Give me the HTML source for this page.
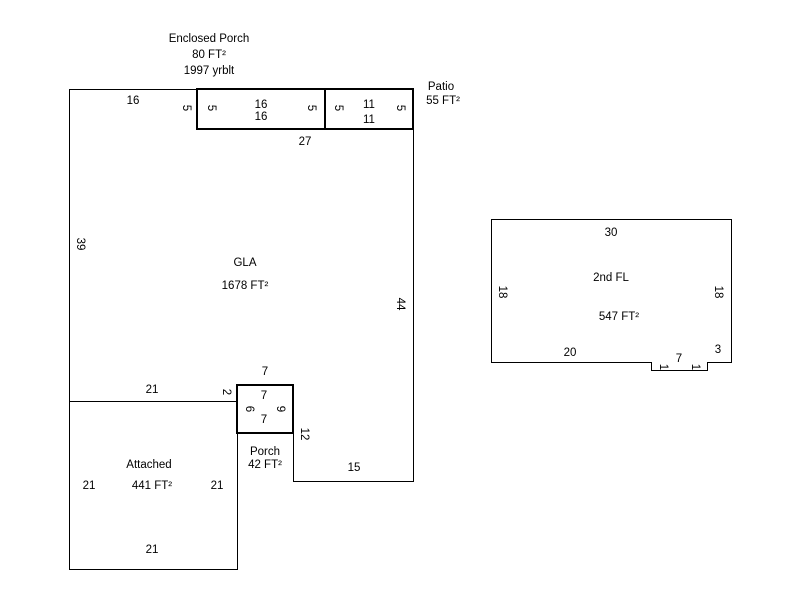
<!DOCTYPE html>
<html><head><style>
html,body{margin:0;padding:0;background:#fff;width:800px;height:600px;overflow:hidden}
text{font-family:"Liberation Sans",Arial,sans-serif;font-size:11.5px;fill:#000}
</style></head><body>
<svg width="800" height="600" xmlns="http://www.w3.org/2000/svg">
<g fill="none" stroke="#000" stroke-width="1">
<path d="M69.5 89.5H197.5V129.5H413.5V481.5H293.5V433.5H237.5V401.5H69.5Z"/>
<path d="M69.5 401.5V569.5H237.5V433.5"/>
<path d="M491.5 219.5H731.5V362.5H707.5V370.5H651.5V362.5H491.5Z"/>
<path d="M325 89.5H413.5V129"/>
</g>
<g fill="none" stroke="#000" stroke-width="2">
<rect x="197" y="89" width="128" height="40"/>
<rect x="325" y="89" width="88" height="40"/>
<rect x="237" y="385" width="56" height="48"/>
</g>
<g text-anchor="middle">
<text x="209" y="42">Enclosed Porch</text>
<text x="209" y="58">80 FT²</text>
<text x="209" y="74">1997 yrblt</text>
<text x="441" y="90">Patio</text>
<text x="443" y="104">55 FT²</text>
<text x="133" y="104">16</text>
<text x="261" y="108">16</text>
<text x="261" y="120">16</text>
<text x="369" y="108">11</text>
<text x="369" y="123">11</text>
<text x="305" y="145">27</text>
<text x="245" y="266">GLA</text>
<text x="245" y="289">1678 FT²</text>
<text x="265" y="375">7</text>
<text x="264" y="399">7</text>
<text x="264" y="423">7</text>
<text x="152" y="393">21</text>
<text x="265" y="455">Porch</text>
<text x="265" y="468">42 FT²</text>
<text x="354" y="471">15</text>
<text x="149" y="468">Attached</text>
<text x="152" y="489">441 FT²</text>
<text x="89" y="489">21</text>
<text x="217" y="489">21</text>
<text x="152" y="553">21</text>
<text x="611" y="236">30</text>
<text x="611" y="281">2nd FL</text>
<text x="619" y="320">547 FT²</text>
<text x="570" y="356">20</text>
<text x="679" y="362">7</text>
<text x="718" y="353">3</text>
<text transform="translate(183,108) rotate(90)">5</text>
<text transform="translate(208,108) rotate(90)">5</text>
<text transform="translate(308,108) rotate(90)">5</text>
<text transform="translate(335,108) rotate(90)">5</text>
<text transform="translate(397,108) rotate(90)">5</text>
<text transform="translate(77,244) rotate(90)">39</text>
<text transform="translate(397,304) rotate(90)">44</text>
<text transform="translate(223,392) rotate(90)">2</text>
<text transform="translate(246,409) rotate(90)">6</text>
<text transform="translate(277,409) rotate(90)">9</text>
<text transform="translate(301,434) rotate(90)">12</text>
<text transform="translate(499,292) rotate(90)">18</text>
<text transform="translate(715,292) rotate(90)">18</text>
<text transform="translate(660,367) rotate(90)">1</text>
<text transform="translate(692,367) rotate(90)">1</text>
</g>
</svg>
</body></html>
